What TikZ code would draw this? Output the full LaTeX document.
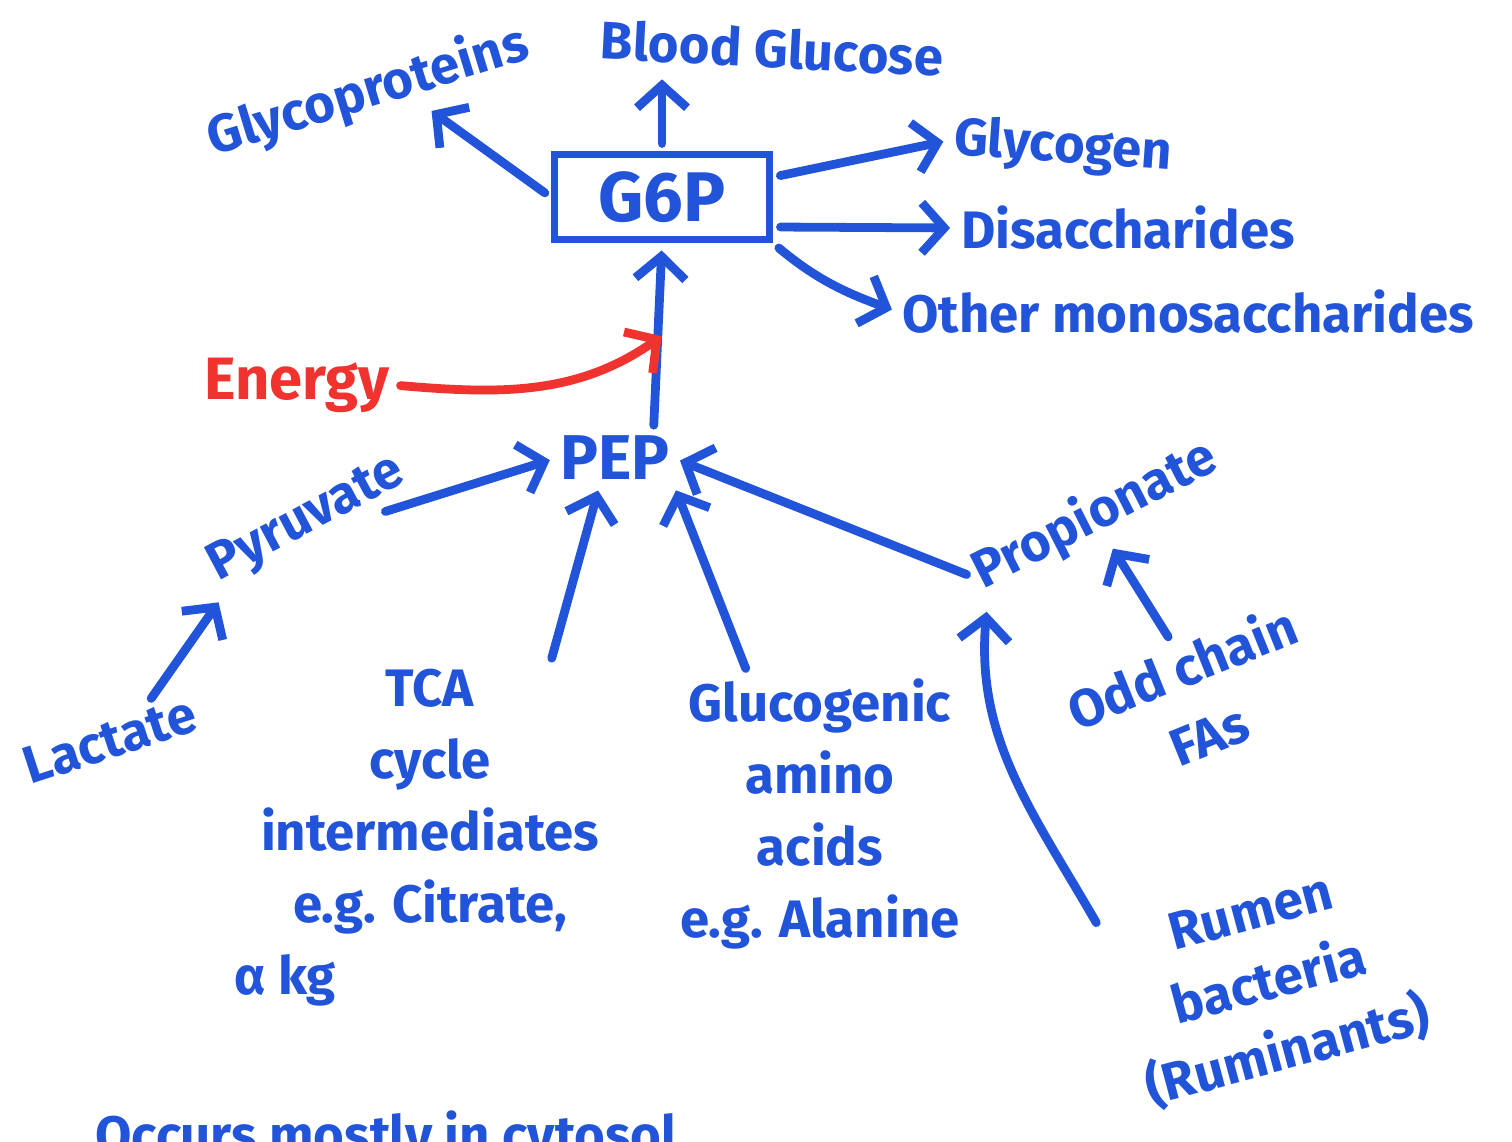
\documentclass[tikz,border=0pt]{standalone}
\usepackage{fontspec}
\setmainfont{Fira Sans}
\usepackage{tikz}
\usetikzlibrary{arrows.meta, positioning, calc}
\definecolor{mink}{HTML}{2254DA}
\definecolor{mred}{HTML}{F0332E}
\tikzset{
  lbl/.style={text=mink, font=\fontsize{30}{41}\selectfont\bfseries, inner sep=2pt, align=center},
  arr/.style={-{Straight Barb[length=4.5mm, width=10mm]}, line width=5pt, mink,
              line cap=round, line join=round, shorten <=4pt, shorten >=4pt},
  rarr/.style={arr, mred},
}

\begin{document}
\begin{tikzpicture}
  \useasboundingbox (0,0) rectangle (30.24,-22.84);
  \clip (0,0) rectangle (30.24,-22.84);
  % top: G6P and where it goes
  \node[lbl, draw=mink, line width=4.5pt, minimum width=4.3cm, minimum height=1.7cm,
        font=\fontsize{40}{44}\selectfont\bfseries] (g6p) at (13.24,-3.94) {G6P};
  \node[lbl, rotate=17] (glyprot) at (7.36,-1.84) {Glycoproteins};
  \node[lbl, rotate=-3] (bglu) at (15.44,-0.96) {Blood Glucose};
  \node[lbl, rotate=-4] (glycogen) at (21.26,-2.96) {Glycogen};
  \node[lbl] (disacch) at (22.56,-4.56) {Disaccharides};
  \node[lbl] (othermono) at (23.76,-6.24) {Other monosaccharides};
  % middle
  \node[lbl, text=mred, font=\fontsize{34}{40}\selectfont\bfseries] (energy) at (5.94,-7.70) {Energy};
  \node[lbl, font=\fontsize{36}{40}\selectfont\bfseries] (pep) at (12.3,-9.16) {PEP};
  \node[lbl, rotate=28] (pyr) at (6.14,-10.4) {Pyruvate};
  \node[lbl, rotate=18] (lact) at (2.2,-14.8) {Lactate};
  \node[lbl, rotate=27] (prop) at (21.9,-10.3) {Propionate};
  % sources
  \node[lbl, anchor=north] (tca) at (8.6,-13.3)
    {TCA\\cycle\\intermediates\\e.g. Citrate,\\α kg\hspace*{5.8cm}};
  \node[lbl, anchor=north] (gluc) at (16.4,-13.5)
    {Glucogenic\\amino\\acids\\e.g. Alanine};
  \node[lbl, rotate=22] (odd) at (23.9,-14.0) {Odd chain\\FAs};
  \node[lbl, rotate=15] (rumen) at (25.4,-19.7) {Rumen\\bacteria\\(Ruminants)};
  \node[lbl, anchor=north west, inner sep=0pt] (cytosol) at (1.9,-22.2) {Occurs mostly in cytosol};

  \coordinate (ein) at ($(pep.north east)!0.53!(g6p.south)$);

  \draw[arr] (g6p.west) -- ($(glyprot.south)!0.3!(glyprot.south east)$);
  \draw[arr] (g6p.north) -- (g6p.north |- bglu.south);
  \draw[arr] ([yshift=0.4cm]g6p.east) -- (glycogen.west);
  \draw[arr] ([yshift=-0.6cm]g6p.east) -- (disacch.west);
  \draw[arr] (g6p.south east) to[out=-40, in=160] (othermono.west);
  \draw[arr] ([xshift=-0.4cm]pep.north east) -- (g6p.south);
  \draw[rarr] (energy.east) to[out=-5, in=215] (ein);
  \draw[arr] ($(pyr.south)!0.6!(pyr.south east)$) -- (pep.west);
  \draw[arr] ($(lact.north)!0.5!(lact.north east)$) -- (pyr.south west);
  \draw[arr] ($(tca.north)!0.6!(tca.north east)$) -- ([xshift=-0.3cm]pep.south);
  \draw[arr] ($(gluc.north)!0.5!(gluc.north west)$) -- (pep.south east);
  \draw[arr] (prop.west) -- (pep.east);
  \draw[arr] (odd.north) -- (prop.south);
  \draw[arr] (rumen.north west) to[out=120, in=-95] (prop.south west);
\end{tikzpicture}
\end{document}
